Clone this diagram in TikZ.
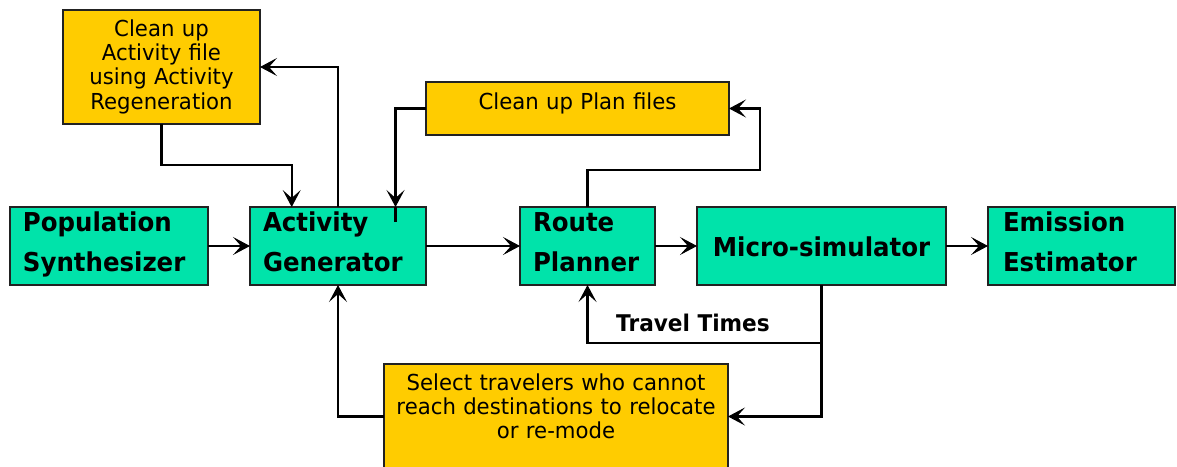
\documentclass[tikz,border=0pt]{standalone}
\usepackage{fontspec}
\setmainfont{DejaVu Sans}
\newfontfamily\regf{DejaVu Sans}[FakeStretch=0.965]
\newfontfamily\boldf{DejaVu Sans}[FakeStretch=0.94]
\usetikzlibrary{arrows.meta,calc}
\definecolor{ygold}{HTML}{FFCC00}
\definecolor{tgreen}{HTML}{00E3AA}
\definecolor{bord}{HTML}{222222}
\tikzset{
  box/.style={draw=bord, line width=2pt, anchor=north west, outer sep=0pt, inner ysep=0pt},
  ybox/.style={box, fill=ygold, align=center, inner xsep=0pt, font=\regf\fontsize{22}{24.4}\selectfont},
  gbox/.style={box, fill=tgreen, align=left, inner xsep=13pt, font=\boldf\bfseries\fontsize{26}{39.5}\selectfont},
  tip/.tip={Stealth[length=17pt,width=18pt,inset=8pt,line width=1pt]},
  conn/.style={line width=2.2pt, draw=black, -tip},
  plain/.style={line width=2.2pt, draw=black},
  lbl/.style={font=\boldf\bfseries\fontsize{23}{24}\selectfont, anchor=base west, inner sep=0pt},
}
\begin{document}
\begin{tikzpicture}[x=1pt,y=-1pt]
\clip (0,0) rectangle (1177,466);
\fill[white] (0,0) rectangle (1177,466);
% yellow boxes
\node[ybox, text width=197pt, text height=26pt, text depth=88pt] (cua) at (63,10)
  {Clean up\\Activity file\\using Activity\\Regeneration};
\node[ybox, text width=303pt, text height=27pt, text depth=26pt] (cup) at (426,82)
  {Clean up Plan files};
\node[ybox, text width=344pt, text height=26pt, text depth=104pt] (sel) at (384,364)
  {Select travelers who cannot\\reach destinations to relocate\\or re-mode};
% green boxes
\node[gbox, text width=172pt, text height=24.7pt, text depth=53.3pt] (pop) at (10,207)
  {Population\\Synthesizer};
\node[gbox, text width=150pt, text height=24.7pt, text depth=53.3pt] (act) at (250,207)
  {Activity\\Generator};
\node[gbox, text width=109pt, text height=24.7pt, text depth=53.3pt] (rp) at (520,207)
  {Route\\Planner};
\node[gbox, align=center, inner xsep=0pt,
  text width=249pt, text height=49pt, text depth=29pt] (ms) at (697,207)
  {Micro-simulator};
\node[gbox, inner xsep=15pt, text width=157pt, text height=24.7pt, text depth=53.3pt] (ee) at (988,207)
  {Emission\\Estimator};
% label
\node[lbl] (tt) at (616,331.7) {Travel Times};
% coordinates
\coordinate (c1) at (291.7,165.3);
\coordinate (c2) at (395.5,207);
\coordinate (c3) at (759.7,170.3);
\coordinate (c4) at (821.5,342.7);
\coordinate (c5) at (821.5,416.5);
% main chain
\draw[conn] (pop) -- (act);
\draw[conn] (act) -- (rp);
\draw[conn] (rp) -- (ms);
\draw[conn] (ms) -- (ee);
% feedback loops
\draw[conn] (act.north) |- (cua.east);
\draw[conn] (cua.south) |- (c1) -- (c1 |- act.north);
\draw[conn] (cup.west) -| (c2);
\draw[plain] (c2) -- ++(0,15);
\draw[conn] (rp.north) |- (c3) |- (cup.east);
\draw[conn] (ms.south) -- (c4) -| (rp.south);
\draw[conn] (c4) -- (c5) -- (c5 -| sel.east);
\draw[conn] (c5 -| sel.west) -| (act.south);
\end{tikzpicture}
\end{document}
